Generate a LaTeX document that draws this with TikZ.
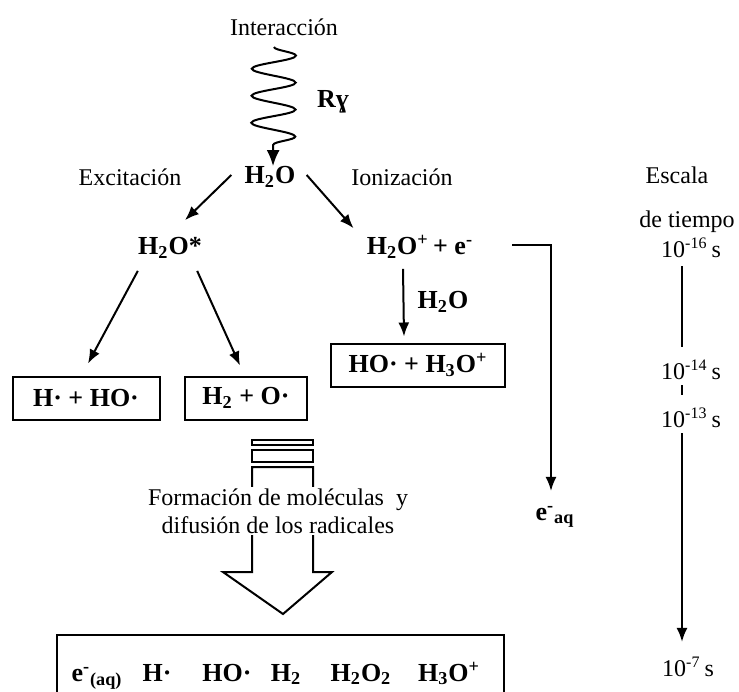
\documentclass[tikz,border=0pt]{standalone}
\usepackage{fontspec}
\setmainfont{Liberation Serif}
\usetikzlibrary{arrows.meta,decorations.pathmorphing,calc}

\tikzset{
  lbl/.style={font=\fontsize{12}{14}\selectfont, inner sep=1pt},
  chem/.style={font=\fontsize{13}{15}\selectfont\bfseries, inner sep=1pt},
  chembox/.style={chem, draw, line width=1pt, minimum height=21.5pt},
  arr/.style={-{Latex[length=7pt,width=5.5pt]}, line width=1pt},
  wave/.style={line width=1pt, -{Latex[length=8pt,width=6.5pt]},
    decorate, decoration={snake, amplitude=11pt, segment length=13.5pt, post length=6pt}},
}

\begin{document}
\begin{tikzpicture}[x=0.5pt,y=-0.5pt]
\useasboundingbox (0,0) rectangle (739,691);
% Interaccion
\node[lbl] (inter) at (284,27) {Interacción};
\coordinate (wtop) at (274,47);
\node[chem] (rg) at (333,102) {Rɣ};
\node[chem] (h2o) at (270,177) {H\textsubscript{2}O};
\draw[wave] (wtop) -- ($(h2o.north)+(3,2)$);
\node[lbl] (exc) at (130,177) {Excitación};
\node[lbl] (ion) at (402,177) {Ionización};
% Excitacion
\node[chem] (h2oex) at (170,248) {H\textsubscript{2}O*};
\node[chembox, minimum width=73.5pt] (hho) at (86,398) {H· + HO·};
\node[chembox, minimum width=61pt] (hh) at (246,398) {H\textsubscript{2} + O·};
\draw[arr] ($(h2o.west)+(-11,-2)$) -- ($(h2oex.north)+(15,-15)$);
\draw[arr] ($(h2oex.south west)+(2,10)$) -- ($(hho.north)+(2,-12)$);
\draw[arr] ($(h2oex.south east)+(-7,10)$) -- ($(hh.north)+(-6,-10)$);
% Ionizacion
\node[chem] (ionpair) at (420,247) {H\textsubscript{2}O\textsuperscript{+}\,+ e\textsuperscript{-}};
\node[chem] (h2ob) at (443,302) {H\textsubscript{2}O};
\node[chembox, minimum width=87pt] (hoh3o) at (418,365) {HO· + H\textsubscript{3}O\textsuperscript{+}};
\node[chem] (eaq) at (555,517) {e\textsuperscript{-}\textsubscript{aq}};
\draw[arr] ($(h2o.east)+(9,-2)$) -- ($(ionpair.north west)+(-11,-5)$);
\draw[arr] ($(ionpair.south)+(-17,8)$) -- ($(hoh3o.north)+(-14,-6)$);
\draw[arr] ($(ionpair.east)+(37,-2)$) -| ($(eaq.north)+(-4,-13)$);
% Difusion
\draw[line width=1pt] (252,440) rectangle (313,445);
\draw[line width=1pt] (252,450) rectangle (313,462);
\draw[line width=1pt] (252,467) -- (252,572) -- (223,572) -- (283,614)
  -- (332,572) -- (313,572) -- (313,467) -- cycle;
\node[lbl, fill=white, align=center] (form) at (278,511)
  {Formación de moléculas\ \ y\\difusión de los radicales};
\node[draw, line width=1pt, minimum width=223.5pt, minimum height=38.5pt] (prod) at (280.5,673.5) {};
\node[chem, anchor=base] (p1) at (97,681) {e\textsuperscript{-}\textsubscript{(aq)}};
\node[chem, anchor=base] (p2) at (157,681) {H·};
\node[chem, anchor=base] (p3) at (227,681) {HO·};
\node[chem, anchor=base] (p4) at (286,681) {H\textsubscript{2}};
\node[chem, anchor=base] (p5) at (361,681) {H\textsubscript{2}O\textsubscript{2}};
\node[chem, anchor=base] (p6) at (449,681) {H\textsubscript{3}O\textsuperscript{+}};
% Escala de tiempo
\node[lbl] (escala) at (677,175) {Escala};
\node[lbl] (tiempo) at (687,222) {de tiempo};
\node[lbl] (t16) at (691,248) {10\textsuperscript{-16}\,s};
\node[lbl] (t14) at (691,370) {10\textsuperscript{-14}\,s};
\node[lbl] (t13) at (691,418) {10\textsuperscript{-13}\,s};
\node[lbl] (t7) at (688,667) {10\textsuperscript{-7}\,s};
\draw[line width=1pt] ($(t16.south)+(-9,6)$) -- ($(t14.north)+(-9,-11)$);
\draw[line width=1pt] ($(t14.south)+(-9,3)$) -- ($(t13.north)+(-9,-11)$);
\draw[arr] ($(t13.south)+(-9,3)$) -- ($(t7.north)+(-6,-13)$);
\end{tikzpicture}
\end{document}
